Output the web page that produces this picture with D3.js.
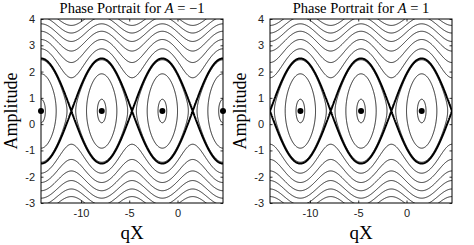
<!DOCTYPE html>
<html>
<head>
<meta charset="utf-8">
<script src="https://cdn.jsdelivr.net/npm/d3@7"></script>
<style>
  body { margin: 0; background: #fff; }
</style>
</head>
<body>
<script>
// data
const aValues = [-1, 1];
const energyLevels = [-0.9, 0, 0.9, 1.8, 2.7, 3.6, 4.5, 5.4, 6.3, 7.2];
const separatrixLevel = [1];
const centersX = [[-14.14, -7.85, -1.57, 4.71], [-10.99, -4.71, 1.57]];
const centerAmp = 0.5;
const xDomain = [-14.14, 4.71];
const yDomain = [-3, 4];
const xTicks = [-10, -5, 0];
const yTicks = [-3, -2, -1, 0, 1, 2, 3, 4];

//const
const dims = { height: 245, width: 474 };
const plot = { top: 19, height: 184, width: 182 };
const panelLeft = [41, 270];

const svg = d3.select("body").append("svg")
    .attr("width", dims.width)
    .attr("height", dims.height)
    .style("background", "#fff");

// energy of the orbit (pendulum-like)
const energy = (qx, amp, A) => {
    const p = amp - centerAmp;
    return p * p / 2 - A * Math.sin(qx);
};

// grid a bit bigger than the view so contours don't close on the frame
const nx = 520, ny = 340;
const gx = [-16.5, 7], gy = [-3.8, 4.8];
const dx = (gx[1] - gx[0]) / (nx - 1), dy = (gy[1] - gy[0]) / (ny - 1);

aValues.forEach((A, k) => {
    const left = panelLeft[k];
    const x = d3.scaleLinear().domain(xDomain).range([left, left + plot.width]);
    const y = d3.scaleLinear().domain(yDomain).range([plot.top + plot.height, plot.top]);

    const values = new Array(nx * ny);
    for (let j = 0; j < ny; j++) {
        for (let i = 0; i < nx; i++) {
            values[j * nx + i] = energy(gx[0] + i * dx, gy[0] + j * dy, A);
        }
    }

    const proj = d3.geoTransform({
        point: function (px, py) {
            this.stream.point(x(gx[0] + (px - 0.5) * dx), y(gy[0] + (py - 0.5) * dy));
        }
    });
    const path = d3.geoPath(proj);

    const clipId = "clip" + k;
    svg.append("clipPath").attr("id", clipId)
        .append("rect")
        .attr("x", left).attr("y", plot.top)
        .attr("width", plot.width).attr("height", plot.height);

    const g = svg.append("g").attr("clip-path", `url(#${clipId})`);

    g.selectAll("path.orbit")
        .data(d3.contours().size([nx, ny]).thresholds(energyLevels)(values))
        .enter().append("path")
            .attr("class", "orbit")
            .attr("d", path)
            .attr("fill", "none")
            .attr("stroke", "#111")
            .attr("stroke-width", 0.9);

    g.selectAll("path.sep")
        .data(d3.contours().size([nx, ny]).thresholds(separatrixLevel)(values))
        .enter().append("path")
            .attr("class", "sep")
            .attr("d", path)
            .attr("fill", "none")
            .attr("stroke", "#000")
            .attr("stroke-width", 2);

    // centres
    svg.selectAll("circle.c" + k)
        .data(centersX[k])
        .enter().append("circle")
            .attr("class", "c" + k)
            .attr("cx", d => x(d))
            .attr("cy", y(centerAmp))
            .attr("r", 3)
            .attr("fill", "#000");

    // axes, ticks inward
    const fmt = d => String(d);
    const axes = [
        [d3.axisBottom(x).tickValues(xTicks), `translate(0,${plot.top + plot.height})`, true],
        [d3.axisTop(x).tickValues(xTicks), `translate(0,${plot.top})`, false],
        [d3.axisLeft(y).tickValues(yTicks), `translate(${left},0)`, true],
        [d3.axisRight(y).tickValues(yTicks), `translate(${left + plot.width},0)`, false]
    ];
    axes.forEach(([ax, tr, labels]) => {
        const a = svg.append("g")
            .attr("transform", tr)
            .call(ax.tickSizeInner(-2.5).tickSizeOuter(0).tickPadding(6).tickFormat(labels ? fmt : ""));
        a.select(".domain").remove();
        a.selectAll("line").attr("stroke", "#000").attr("stroke-width", 0.8);
        a.selectAll("text")
            .attr("font-family", "Liberation Sans, Arial, sans-serif")
            .attr("font-size", 11)
            .attr("fill", "#222");
    });

    svg.append("rect")
        .attr("x", left).attr("y", plot.top)
        .attr("width", plot.width).attr("height", plot.height)
        .attr("fill", "none")
        .attr("stroke", "#000")
        .attr("stroke-width", 1);

    // title
    const title = svg.append("text")
        .attr("x", left + plot.width / 2)
        .attr("y", 13)
        .attr("text-anchor", "middle")
        .attr("font-family", "Liberation Serif, Times New Roman, serif")
        .attr("font-size", 14.5)
        .attr("fill", "#000");
    title.append("tspan").text("Phase Portrait for ");
    title.append("tspan").attr("font-style", "italic").text("A");
    title.append("tspan").text(" = " + (A < 0 ? "\u2212" : "") + Math.abs(A));

    // axis labels
    svg.append("text")
        .attr("x", left + plot.width / 2)
        .attr("y", 239)
        .attr("text-anchor", "middle")
        .attr("font-family", "Liberation Serif, Times New Roman, serif")
        .attr("font-size", 19)
        .attr("fill", "#000")
        .text("qX");

    svg.append("text")
        .attr("transform", `translate(${left - 24},${plot.top + plot.height / 2}) rotate(-90)`)
        .attr("text-anchor", "middle")
        .attr("font-family", "Liberation Serif, Times New Roman, serif")
        .attr("font-size", 18)
        .attr("fill", "#000")
        .text("Amplitude");
});
</script>
</body>
</html>
